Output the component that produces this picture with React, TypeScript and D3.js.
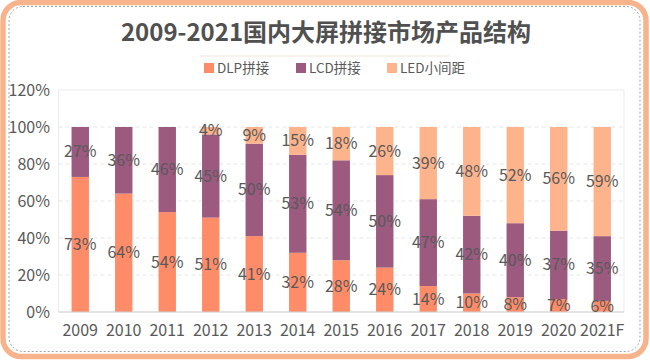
import React from "react";
import * as d3 from "d3";

const categories = ["2009","2010","2011","2012","2013","2014","2015","2016","2017","2018","2019","2020","2021F"];
const dlp = [73,64,54,51,41,32,28,24,14,10,8,7,6];
const lcd = [27,36,46,45,50,53,54,50,47,42,40,37,35];
const led = [0,0,0,4,9,15,18,26,39,48,52,56,59];
const seriesNames = ["DLP拼接","LCD拼接","LED小间距"];
const seriesColors = ["#FF8C69","#9B5A7E","#FDB38B"];
const yTicks = [0,20,40,60,80,100,120];

const W = 650, H = 360;
const M = { left: 58.5, right: 26, top: 90, bottom: 48 };
const FONT = "'Noto Sans CJK SC', 'Microsoft YaHei', sans-serif";

export default function App() {
  const x = d3.scaleBand<string>().domain(categories).range([M.left, W - M.right]).paddingInner(0.6).paddingOuter(0.3);
  const y = d3.scaleLinear().domain([0, 120]).range([H - M.bottom, M.top]);
  const rows = categories.map((c, i) => ({ c, DLP: dlp[i], LCD: lcd[i], LED: led[i] }));
  const stack = d3.stack<any>().keys(["DLP","LCD","LED"])(rows);
  const legendItems = seriesNames.map((n, i) => ({ n, c: seriesColors[i] }));
  const legendX = [204, 296, 387];
  return (
    <div style={{ position: "absolute", left: 0, top: 0 }}>
      <svg width={W} height={H} style={{ display: "block", fontFamily: FONT }}>
        <rect x={0} y={0} width={W} height={H} fill="#fff" />
        <rect x={3} y={2.5} width={W - 7} height={H - 6} rx={18} fill="none" stroke="#F7B48C" strokeWidth={5.5} />
        <rect x={9} y={6.5} width={W - 19} height={H - 15} rx={14} fill="none" stroke="#9AA5B5" strokeWidth={1} strokeDasharray="2,2" />
        <text x={W / 2 + 1} y={41} textAnchor="middle" fontSize={24} fontWeight="bold" fill="#505050">2009-2021国内大屏拼接市场产品结构</text>
        <line x1={200} x2={450} y1={56} y2={56} stroke="#F3E3DA" strokeWidth={1} />
        {legendItems.map((d, i) => (
          <g key={d.n} transform={`translate(${legendX[i]},68)`}>
            <rect x={0} y={-5} width={10} height={10} fill={d.c} />
            <text x={13} y={5} fontSize={13.5} fill="#595959">{d.n}</text>
          </g>
        ))}
        <rect x={M.left} y={M.top} width={W - M.right - M.left} height={H - M.bottom - M.top} fill="none" stroke="#EBEBEB" strokeWidth={1} />
        {yTicks.filter(t => t > 0 && t < 120).map(t => (
          <line key={t} x1={M.left} x2={W - M.right} y1={y(t)} y2={y(t)} stroke="#E6E6E6" strokeDasharray="4,3" />
        ))}
        {yTicks.map(t => (
          <text key={t} x={50} y={y(t) + 5.5} textAnchor="end" fontSize={16} fill="#595959">{t}%</text>
        ))}
        {stack.map((s, si) => (
          <g key={si}>
            {s.map((d, i) => d[1] - d[0] > 0 ? (
              <rect key={i} x={x(categories[i])} y={y(d[1])} width={x.bandwidth()} height={y(d[0]) - y(d[1])} fill={seriesColors[si]} />
            ) : null)}
          </g>
        ))}
        <line x1={M.left} x2={W - M.right} y1={y(0)} y2={y(0)} stroke="#D0D0D0" />
        {stack.map((s, si) => (
          <g key={"l" + si}>
            {s.map((d, i) => d[1] - d[0] > 0 ? (
              <text key={i} x={x(categories[i])! + x.bandwidth() / 2} y={y((d[0] + d[1]) / 2) + 5.5} textAnchor="middle" fontSize={16} fill="#595959">{d[1] - d[0]}%</text>
            ) : null)}
          </g>
        ))}
        {categories.map(c => (
          <text key={c} x={x(c)! + x.bandwidth() / 2} y={336} textAnchor="middle" fontSize={16} fill="#595959">{c}</text>
        ))}
      </svg>
    </div>
  );
}
